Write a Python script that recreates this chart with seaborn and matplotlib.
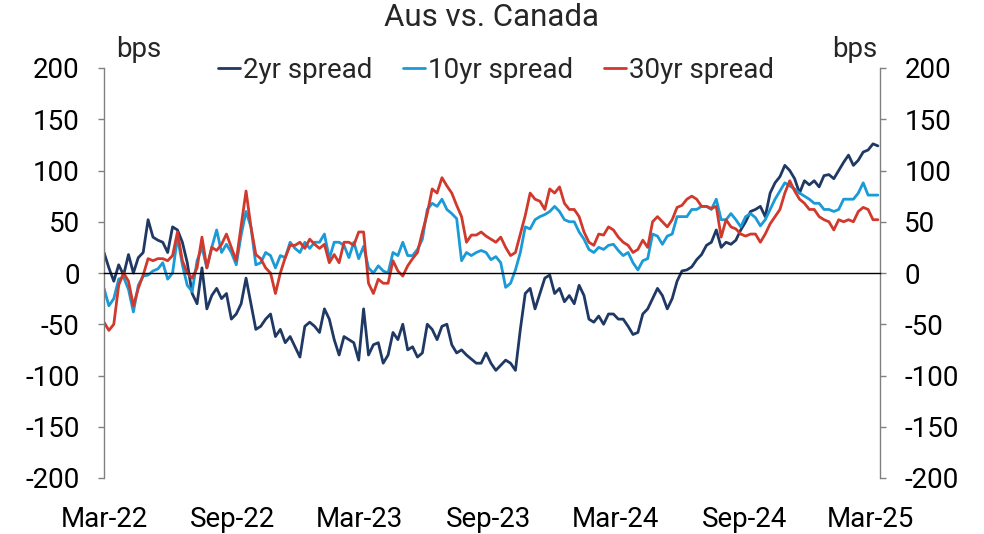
import pandas as pd
import matplotlib
matplotlib.use("Agg")
import matplotlib.pyplot as plt
import matplotlib.dates as mdates
import seaborn as sns

# weekly readings, bps, starting 1 Mar 2022
start_date = "2022-03-01"

spread_2yr = [
    20, 5, -8, 8, -2, 18, 0, 15, 20, 52, 35, 32, 30, 20, 45, 42, 30, 10, -20, -30,
    5, -35, -22, -15, -25, -20, -45, -40,
    -30, -5, -30, -55, -52, -45, -40, -62, -55, -68, -62, -72, -82, -52, -48, -52,
    -58, -35, -45, -65, -80, -62, -65, -68, -85, -35,
    -80, -70, -68, -88, -80, -58, -65, -50, -75, -72, -82, -78, -50, -55, -65, -52,
    -50, -70, -78, -75, -80, -84, -88, -88, -78, -88,
    -95, -90, -85, -88, -95, -55, -20, -15, -35, -20, -5, -2, -20, -15, -28, -22,
    -30, -12, -22, -45, -48, -42, -50, -40, -40, -45, -45,
    -52, -60, -58, -40, -35, -25, -15, -22, -35, -25, -8, 2, 3, 6, 13, 18, 27, 30,
    42, 25, 30, 28, 32, 42, 50, 60,
    62, 65, 55, 78, 88, 94, 105, 100, 92, 78, 90, 86, 90, 84, 95, 96, 92, 100,
    108, 115, 105, 110, 118, 120, 126, 124,
]

spread_10yr = [
    -15, -32, -25, -6, -4, -16, -38, -12, -3, -2, 2, 4, 10, -6, 0, 35, 8, -12, -18, 12,
    25, 5, 25, 42, 20, 28, 20, 8,
    37, 60, 45, 8, 10, 20, 17, 5, 17, 15, 30, 24, 20, 30, 24, 30, 30, 38, 14, 30,
    30, 27, 15, 30, 14, 26,
    5, 0, 7, 2, 0, 20, 17, 30, 17, 17, 23, 33, 62, 68, 65, 72, 62, 58, 53, 12,
    20, 17, 20, 22, 20, 13,
    16, 10, -14, -10, 3, 20, 45, 43, 52, 55, 57, 60, 65, 60, 52, 50, 50, 40, 33, 23,
    20, 25, 23, 27, 28, 22, 17,
    20, 10, 3, 12, 14, 38, 36, 28, 36, 38, 55, 55, 55, 62, 62, 65, 65, 62, 72, 52,
    52, 58, 52, 45, 55, 58,
    54, 46, 52, 62, 72, 80, 88, 85, 82, 78, 75, 72, 68, 68, 62, 62, 60, 62, 72, 72,
    72, 78, 88, 76, 76, 76,
]

spread_30yr = [
    -48, -56, -50, -12, 0, -8, -32, -15, -2, 14, 12, 14, 14, 12, 17, 40, 12, 0, -5, 5,
    35, 5, 25, 22, 28, 38, 25, 12,
    46, 80, 45, 18, 14, 5, 0, -20, 0, 15, 27, 27, 30, 24, 33, 28, 24, 28, 10, 18,
    10, 30, 30, 27, 40, 40,
    -10, -20, -6, -10, -10, 12, 2, -3, 7, 14, 20, 40, 58, 82, 78, 93, 85, 78, 66, 55,
    30, 37, 37, 40, 36, 33,
    30, 35, 25, 17, 20, 38, 56, 78, 72, 70, 62, 82, 78, 84, 68, 62, 62, 55, 40, 30,
    27, 38, 37, 45, 42, 35, 30,
    27, 20, 23, 32, 25, 50, 55, 50, 45, 52, 64, 66, 72, 75, 72, 65, 65, 63, 65, 35,
    52, 45, 43, 38, 36, 38,
    38, 30, 38, 48, 55, 62, 78, 90, 80, 72, 68, 62, 62, 55, 52, 50, 42, 52, 50, 52,
    50, 60, 64, 62, 52, 52,
]

series_names = ["2yr spread", "10yr spread", "30yr spread"]
colors = ["#1f3864", "#1a9ad6", "#d0392b"]
tick_dates = ["2022-03-01", "2022-09-01", "2023-03-01", "2023-09-01",
              "2024-03-01", "2024-09-01", "2025-03-01"]
y_ticks = list(range(-200, 201, 50))

dates = pd.date_range(start_date, periods=len(spread_2yr), freq="7D")
df = pd.DataFrame({"date": dates, "2yr spread": spread_2yr,
                   "10yr spread": spread_10yr, "30yr spread": spread_30yr})
long_df = df.melt(id_vars="date", var_name="series", value_name="bps")

sns.set_theme(style="white")
plt.rcParams["font.family"] = ["Roboto", "DejaVu Sans"]
plt.rcParams["axes.unicode_minus"] = False

fs = 20

fig = plt.figure(figsize=(9.84, 5.34), dpi=100)
ax = fig.add_axes([104 / 984, 1 - 478 / 534, 776 / 984, 410 / 534])

sns.lineplot(data=long_df, x="date", y="bps", hue="series", hue_order=series_names,
             palette=colors, linewidth=2.0, ax=ax)

ax.set_xlim(pd.Timestamp("2022-03-01"), pd.Timestamp("2025-03-14"))
ax.set_ylim(-200, 200)
ax.set_xlabel("")
ax.set_ylabel("")

# spines: gray left/right, x axis sits on zero
for side in ["left", "right"]:
    ax.spines[side].set_color("#808080")
    ax.spines[side].set_linewidth(1.0)
ax.spines["top"].set_visible(False)
ax.spines["bottom"].set_position(("data", 0))
ax.spines["bottom"].set_color("black")
ax.spines["bottom"].set_linewidth(1.0)

ax.set_yticks(y_ticks)
ax.tick_params(axis="y", which="both", left=True, right=True, labelleft=True,
               labelright=True, direction="out", length=4.5, width=1,
               color="#808080", labelsize=fs, pad=13, labelcolor="black")

ax.set_xticks(pd.to_datetime(tick_dates))
ax.xaxis.set_major_formatter(mdates.DateFormatter("%b-%y"))
ax.tick_params(axis="x", direction="in", length=7, width=1, color="#555555",
               labelsize=fs, pad=168, labelcolor="black")

ax.text(0.5, 1.122, "Aus vs. Canada", transform=ax.transAxes, fontsize=22.5,
        ha="center", va="center")
ax.text(0.016, 1.045, "bps", transform=ax.transAxes, fontsize=fs, ha="left", va="center")
ax.text(0.996, 1.045, "bps", transform=ax.transAxes, fontsize=fs, ha="right", va="center")

ax.legend(title=None, loc="center", bbox_to_anchor=(0.505, 0.995), ncol=3,
          frameon=False, fontsize=fs, handlelength=0.8, handletextpad=0.1,
          columnspacing=1.1, borderaxespad=0)

fig.savefig("out.png", dpi=100)
